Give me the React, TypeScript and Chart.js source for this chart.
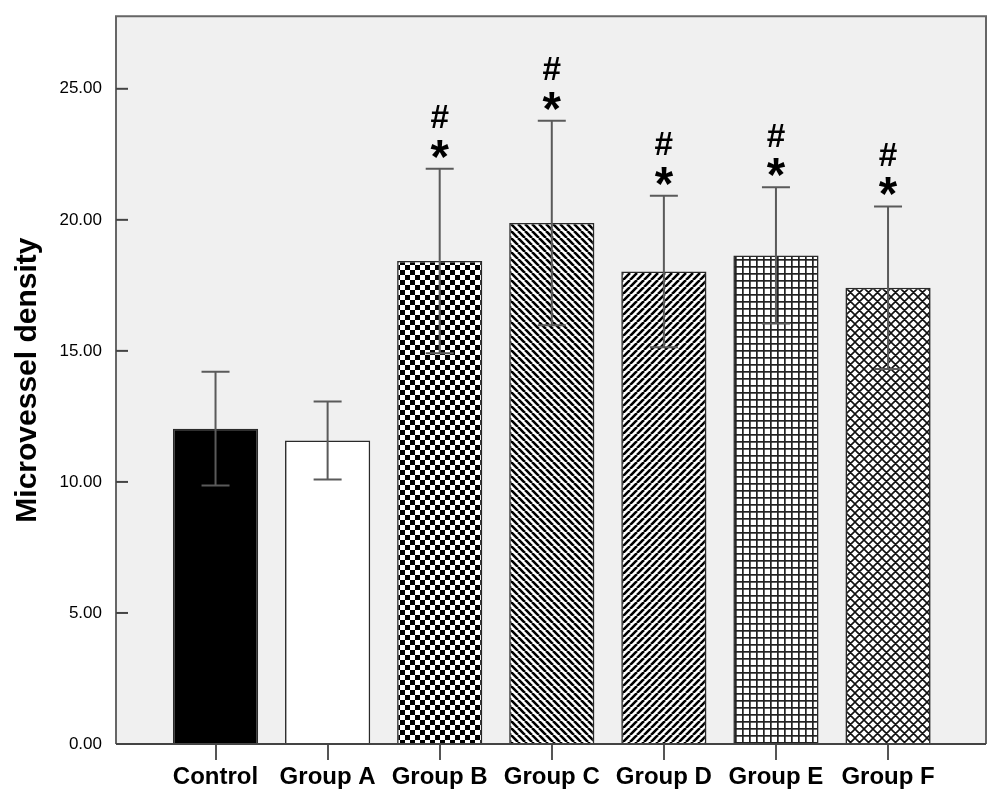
import React, { useEffect, useRef } from 'react';
import { Chart, registerables } from 'chart.js';

Chart.register(...registerables);

const categories = ['Control', 'Group A', 'Group B', 'Group C', 'Group D', 'Group E', 'Group F'];
const means = [12.03, 11.58, 18.43, 19.88, 18.03, 18.64, 17.41];
const errors = [2.17, 1.49, 3.52, 3.9, 2.89, 2.6, 3.1];
const hashMarks = [false, false, true, true, true, true, true];
const starMarks = [false, false, true, true, true, true, true];
const yTickValues = [0, 5, 10, 15, 20, 25];
const yMax = 27.77;
const yTitle = 'Microvessel density';

const FONT = '"Liberation Sans", Arial, sans-serif';

function makeTile(size: number, draw: (c: CanvasRenderingContext2D, s: number) => void): CanvasPattern | string {
  const cv = document.createElement('canvas');
  cv.width = size;
  cv.height = size;
  const c = cv.getContext('2d')!;
  c.fillStyle = '#ffffff';
  c.fillRect(0, 0, size, size);
  draw(c, size);
  const ctx = document.createElement('canvas').getContext('2d')!;
  return ctx.createPattern(cv, 'repeat') || '#fff';
}

function makePatterns(): (CanvasPattern | string)[] {
  const checker = makeTile(10, (c) => {
    c.fillStyle = '#000';
    c.fillRect(0, 0, 5, 5);
    c.fillRect(5, 5, 5, 5);
  });
  const back = makeTile(7, (c, s) => {
    c.strokeStyle = '#000';
    c.lineWidth = 2.6;
    c.beginPath();
    for (let k = -1; k <= 1; k++) {
      c.moveTo(k * s, 0);
      c.lineTo(k * s + s, s);
    }
    c.stroke();
  });
  const fwd = makeTile(7, (c, s) => {
    c.strokeStyle = '#000';
    c.lineWidth = 2.6;
    c.beginPath();
    for (let k = -1; k <= 1; k++) {
      c.moveTo(k * s, s);
      c.lineTo(k * s + s, 0);
    }
    c.stroke();
  });
  const grid = makeTile(7, (c, s) => {
    c.fillStyle = '#222';
    c.fillRect(0, 0, s, 1.7);
    c.fillRect(0, 0, 1.7, s);
  });
  const diamond = makeTile(9, (c, s) => {
    c.strokeStyle = '#111';
    c.lineWidth = 1.6;
    c.beginPath();
    for (let k = -1; k <= 1; k++) {
      c.moveTo(k * s, 0);
      c.lineTo(k * s + s, s);
      c.moveTo(k * s, s);
      c.lineTo(k * s + s, 0);
    }
    c.stroke();
  });
  return ['#000000', '#ffffff', checker, back, fwd, grid, diamond];
}

const decorPlugin = {
  id: 'decor',
  beforeDraw(chart: any) {
    const { ctx, chartArea } = chart;
    ctx.save();
    ctx.fillStyle = '#f0f0f0';
    ctx.fillRect(chartArea.left, chartArea.top, chartArea.right - chartArea.left, chartArea.bottom - chartArea.top);
    ctx.restore();
  },
  afterDatasetsDraw(chart: any) {
    const { ctx, chartArea } = chart;
    const xs = chart.scales.x;
    const ys = chart.scales.y;
    ctx.save();
    // error bars
    ctx.strokeStyle = '#5a5a5a';
    ctx.lineWidth = 2;
    const capHalf = 14;
    means.forEach((m, i) => {
      const x = xs.getPixelForValue(i);
      const yt = ys.getPixelForValue(m + errors[i]);
      const yb = ys.getPixelForValue(m - errors[i]);
      ctx.beginPath();
      ctx.moveTo(x, yt);
      ctx.lineTo(x, yb);
      ctx.moveTo(x - capHalf, yt);
      ctx.lineTo(x + capHalf, yt);
      ctx.moveTo(x - capHalf, yb);
      ctx.lineTo(x + capHalf, yb);
      ctx.stroke();
    });
    // significance marks
    const fitFont = (ch: string, targetH: number) => {
      ctx.font = `bold 100px ${FONT}`;
      const mm = ctx.measureText(ch);
      const h = mm.actualBoundingBoxAscent + mm.actualBoundingBoxDescent;
      const size = (100 * targetH) / h;
      ctx.font = `bold ${size}px ${FONT}`;
      const m2 = ctx.measureText(ch);
      return (m2.actualBoundingBoxAscent - m2.actualBoundingBoxDescent) / 2;
    };
    ctx.fillStyle = '#000';
    ctx.textAlign = 'center';
    ctx.textBaseline = 'alphabetic';
    means.forEach((m, i) => {
      const x = xs.getPixelForValue(i);
      const yt = ys.getPixelForValue(m + errors[i]);
      if (starMarks[i]) {
        const off = fitFont('*', 18);
        ctx.fillText('*', x, yt - 20 + off);
      }
      if (hashMarks[i]) {
        const off = fitFont('#', 23);
        ctx.fillText('#', x, yt - 52 + off);
      }
    });
    // frame
    ctx.strokeStyle = '#666';
    ctx.lineWidth = 2;
    ctx.beginPath();
    ctx.moveTo(chartArea.left, chartArea.bottom);
    ctx.lineTo(chartArea.left, chartArea.top);
    ctx.lineTo(chartArea.right, chartArea.top);
    ctx.lineTo(chartArea.right, chartArea.bottom);
    ctx.stroke();
    ctx.strokeStyle = '#444';
    ctx.beginPath();
    ctx.moveTo(chartArea.left, chartArea.bottom);
    ctx.lineTo(chartArea.right, chartArea.bottom);
    ctx.stroke();
    // inward y ticks
    ctx.strokeStyle = '#444';
    ys.ticks.forEach((t: any) => {
      const y = ys.getPixelForValue(t.value);
      ctx.beginPath();
      ctx.moveTo(chartArea.left, y);
      ctx.lineTo(chartArea.left + 12, y);
      ctx.stroke();
    });
    ctx.restore();
  },
};

export default function App() {
  const ref = useRef<HTMLCanvasElement | null>(null);
  useEffect(() => {
    document.body.style.margin = '0';
    const canvas = ref.current;
    if (!canvas) return;
    const patterns = makePatterns();
    const chart = new Chart(canvas, {
      type: 'bar',
      data: {
        datasets: [
          {
            data: means.map((v, i) => ({ x: i, y: v })),
            backgroundColor: patterns as any,
            borderColor: '#2a2a2a',
            borderWidth: 1.6,
            barPercentage: 0.76,
            categoryPercentage: 1,
          },
        ],
      },
      options: {
        animation: false,
        responsive: true,
        maintainAspectRatio: false,
        layout: { padding: { top: 13, right: 1, left: 0, bottom: 0 } },
        plugins: { legend: { display: false }, tooltip: { enabled: false } },
        scales: {
          x: {
            type: 'linear',
            min: -0.888,
            max: 6.874,
            offset: false,
            afterBuildTicks: (axis: any) => {
              axis.ticks = categories.map((_, i) => ({ value: i }));
            },
            afterFit: (axis: any) => {
              axis.height = 46;
            },
            grid: { offset: false, drawOnChartArea: false, drawTicks: true, tickLength: 16, color: '#555', lineWidth: 2 },
            border: { display: false },
            ticks: {
              autoSkip: false,
              maxRotation: 0,
              padding: 3,
              color: '#000',
              font: { family: FONT, size: 24, weight: 'bold' },
              callback: (v: any) => categories[Math.round(Number(v))] ?? '',
            },
          },
          y: {
            type: 'linear',
            min: 0,
            max: yMax,
            afterBuildTicks: (axis: any) => {
              axis.ticks = yTickValues.map((v) => ({ value: v }));
            },
            afterFit: (axis: any) => {
              axis.width = 116;
            },
            grid: { display: false },
            border: { display: false },
            ticks: {
              padding: 6,
              color: '#000',
              font: { family: FONT, size: 17 },
              callback: (v: any) => Number(v).toFixed(2),
            },
            title: {
              display: true,
              text: yTitle,
              color: '#000',
              font: { family: FONT, size: 30, weight: 'bold' },
              padding: { top: 10, bottom: 0 },
            },
          },
        },
      },
      plugins: [decorPlugin],
    });
    return () => chart.destroy();
  }, []);
  return (
    <div style={{ width: 987, height: 790, position: 'relative', background: '#fff' }}>
      <canvas ref={ref} />
    </div>
  );
}
